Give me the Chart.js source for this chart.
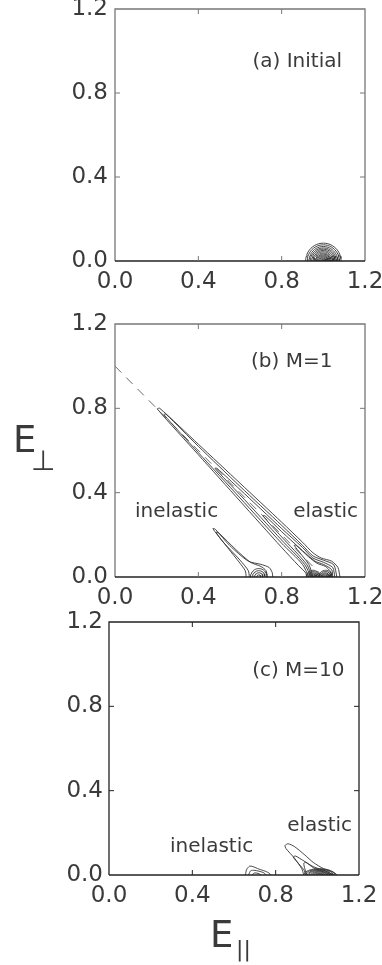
<!DOCTYPE html>
<html>
<head>
<meta charset="utf-8">
<script src="https://cdn.jsdelivr.net/npm/chart.js@4.4.1/dist/chart.umd.min.js"></script>
<style>
  body { margin: 0; background: #fff; width: 382px; height: 965px; overflow: hidden; position: relative; }
  canvas { position: absolute; left: 0; }
</style>
</head>
<body>
<canvas id="panelA" width="382" height="300" style="top:0px"></canvas>
<canvas id="panelB" width="382" height="305" style="top:300px"></canvas>
<canvas id="panelC" width="382" height="360" style="top:605px"></canvas>
<script>
/* tick labels shared by all three panels */
const tickValues = [0, 0.4, 0.8, 1.2];

/* (a) initial distribution: concentric rings around E|| = 1 */
const ringCenterA = 1.0;
const ringRadiiA = [0.085, 0.077, 0.069, 0.062, 0.056, 0.050, 0.044, 0.038, 0.033, 0.028, 0.023, 0.018, 0.013, 0.008, 0.004];

/* (b) M=1, elastic streak along E|| + E_perp = 1 */
const elasticB1 = [[0.92,0],[0.915,0.02],[0.88,0.055],[0.80,0.14],[0.60,0.36],[0.40,0.58],[0.203,0.797],[0.215,0.80],[0.40,0.63],[0.60,0.445],[0.80,0.26],[0.90,0.165],[0.95,0.115],[0.99,0.09],[1.04,0.075],[1.07,0.045],[1.08,0]];
const elasticB2 = [[0.93,0],[0.90,0.06],[0.80,0.16],[0.60,0.375],[0.40,0.59],[0.235,0.77],[0.245,0.772],[0.40,0.62],[0.60,0.43],[0.80,0.245],[0.90,0.15],[0.95,0.10],[1.00,0.08],[1.05,0.058],[1.065,0]];
const elasticB3 = [[0.94,0],[0.91,0.06],[0.80,0.175],[0.60,0.39],[0.48,0.515],[0.49,0.515],[0.60,0.415],[0.80,0.23],[0.90,0.14],[0.95,0.09],[1.00,0.07],[1.045,0.045],[1.055,0]];
const elasticB4 = [[0.945,0],[0.92,0.06],[0.80,0.19],[0.71,0.29],[0.72,0.29],[0.80,0.215],[0.90,0.125],[0.96,0.075],[1.00,0.06],[1.04,0.035],[1.045,0]];
const elasticB5 = [[0.95,0],[0.93,0.06],[0.86,0.15],[0.87,0.15],[0.93,0.095],[0.97,0.065],[1.01,0.05],[1.035,0.025],[1.04,0]];
const ringCentersB = [0.95, 1.01];
const ringRadiiB = [0.032, 0.026, 0.02, 0.015, 0.01, 0.005];
const dashedB = [[0, 1], [1, 0]];

/* (b) M=1, inelastic streak */
const inelasticB1 = [[0.63,0],[0.625,0.03],[0.60,0.065],[0.54,0.14],[0.48,0.215],[0.47,0.23],[0.482,0.226],[0.55,0.15],[0.64,0.075],[0.70,0.06],[0.74,0.045],[0.755,0.02],[0.757,0]];
const inelasticB2 = [[0.645,0],[0.64,0.03],[0.60,0.08],[0.52,0.165],[0.485,0.212],[0.50,0.207],[0.58,0.13],[0.65,0.07],[0.70,0.05],[0.725,0.03],[0.73,0]];
const ringCenterBi = 0.69;
const ringRadiiBi = [0.04, 0.03, 0.02, 0.01];

/* (c) M=10 */
const inelasticC1 = [[0.655,0],[0.66,0.025],[0.675,0.042],[0.69,0.04],[0.72,0.028],[0.75,0.018],[0.77,0.008],[0.775,0]];
const inelasticC2 = [[0.67,0],[0.68,0.02],[0.70,0.022],[0.74,0.012],[0.755,0]];
const inelasticC3 = [[0.685,0],[0.70,0.01],[0.72,0.006],[0.73,0]];
const elasticC1 = [[0.935,0],[0.925,0.03],[0.89,0.08],[0.85,0.125],[0.845,0.14],[0.86,0.148],[0.89,0.135],[0.94,0.095],[0.98,0.06],[1.03,0.03],[1.08,0.012],[1.095,0]];
const elasticC2 = [[0.945,0],[0.935,0.025],[0.90,0.065],[0.885,0.085],[0.895,0.09],[0.93,0.07],[0.98,0.04],[1.04,0.018],[1.08,0]];
const elasticC3 = [[0.95,0],[0.94,0.03],[0.935,0.055],[0.945,0.06],[0.98,0.035],[1.03,0.015],[1.07,0]];
const ringCenterC = 1.01;
const ringRxC = [0.075, 0.066, 0.057, 0.049, 0.041, 0.033, 0.025, 0.017, 0.009];
const ringRyC = [0.03, 0.027, 0.024, 0.021, 0.017, 0.014, 0.01, 0.007, 0.004];


const INK = '#333';
const FONT = '"DejaVu Sans", sans-serif';

// half ring (upper half) of a contour around (cx, 0)
function halfRing(cx, rx, ry) {
  const pts = [];
  for (let i = 0; i <= 24; i++) {
    const t = Math.PI - Math.PI * i / 24;
    pts.push({x: cx + rx * Math.cos(t), y: ry * Math.sin(t)});
  }
  return pts;
}

function line(points, extra) {
  return Object.assign({
    data: points.map(p => Array.isArray(p) ? {x: p[0], y: p[1]} : p),
    showLine: true,
    pointRadius: 0,
    borderColor: INK,
    borderWidth: 0.9,
    tension: 0.25,
    fill: false
  }, extra || {});
}

function rings(cx, rxs, rys) {
  return rxs.map((r, i) => line(halfRing(cx, r, rys ? rys[i] : r), {tension: 0}));
}

// frame with inward ticks on all four sides
const framePlugin = {
  id: 'frame',
  afterDatasetsDraw(chart, args, opts) {
    const {ctx, chartArea: a, scales: {x, y}} = chart;
    ctx.save();
    ctx.lineWidth = 1.3;
    ctx.strokeStyle = opts.sideColor;
    ctx.beginPath();
    ctx.moveTo(a.left, a.bottom); ctx.lineTo(a.left, a.top);
    ctx.lineTo(a.right, a.top); ctx.lineTo(a.right, a.bottom);
    ctx.stroke();
    ctx.strokeStyle = '#222';
    ctx.beginPath();
    ctx.moveTo(a.left, a.bottom); ctx.lineTo(a.right, a.bottom);
    ctx.stroke();
    ctx.lineWidth = 1;
    ctx.strokeStyle = opts.sideColor;
    ctx.beginPath();
    [0.4, 0.8].forEach(v => {
      const px = x.getPixelForValue(v), py = y.getPixelForValue(v);
      ctx.moveTo(px, a.bottom); ctx.lineTo(px, a.bottom - 5);
      ctx.moveTo(px, a.top); ctx.lineTo(px, a.top + 5);
      ctx.moveTo(a.left, py); ctx.lineTo(a.left + 5, py);
      ctx.moveTo(a.right, py); ctx.lineTo(a.right - 5, py);
    });
    ctx.stroke();

    // labels inside the plot
    ctx.fillStyle = '#3a3a3a';
    ctx.font = '20px ' + FONT;
    ctx.textBaseline = 'middle';
    ctx.textAlign = 'left';
    (opts.notes || []).forEach(n => {
      ctx.fillText(n.text, x.getPixelForValue(n.x), y.getPixelForValue(n.y));
    });

    // axis titles
    ctx.textBaseline = 'alphabetic';
    if (opts.yTitle) {
      ctx.font = '37px ' + FONT;
      ctx.fillText('E', a.left - 102, a.top + 128);
      ctx.font = '28px ' + FONT;
      ctx.fillText('\u22A5', a.left - 84, a.top + 146);
    }
    if (opts.xTitle) {
      ctx.font = '37px ' + FONT;
      ctx.fillText('E', a.left + 101, a.bottom + 72);
      ctx.font = '22px ' + FONT;
      ctx.fillText('||', a.left + 127, a.bottom + 81);
    }
    ctx.restore();
  }
};

function createPanel(canvasId, datasets, box, frame) {
  const ctx = document.getElementById(canvasId).getContext('2d');
  const tickFont = {family: FONT, size: 23};
  new Chart(ctx, {
    type: 'scatter',
    data: {datasets: datasets},
    options: {
      responsive: false,
      animation: false,
      devicePixelRatio: 1,
      layout: {padding: {left: 0, top: box.top, right: box.right, bottom: 0}},
      plugins: {legend: {display: false}, tooltip: {enabled: false}, frame: frame},
      scales: {
        x: {
          type: 'linear', min: 0, max: 1.2,
          afterBuildTicks: s => { s.ticks = tickValues.map(v => ({value: v})); },
          afterFit: s => { s.height = box.xHeight; s.paddingLeft = 0; s.paddingRight = 0; },
          grid: {display: false, drawTicks: false},
          border: {display: false},
          ticks: {padding: 7, font: tickFont, color: '#3a3a3a', maxRotation: 0, autoSkip: false,
                  callback: v => v.toFixed(1)}
        },
        y: {
          type: 'linear', min: 0, max: 1.2,
          afterBuildTicks: s => { s.ticks = tickValues.map(v => ({value: v})); },
          afterFit: s => { s.width = box.yWidth; s.paddingTop = 0; s.paddingBottom = 0; },
          grid: {display: false, drawTicks: false},
          border: {display: false},
          ticks: {padding: box.yPad, font: tickFont, color: '#3a3a3a', autoSkip: false,
                  callback: v => v.toFixed(1)}
        }
      }
    },
    plugins: [framePlugin]
  });
}

createPanel('panelA',
  rings(ringCenterA, ringRadiiA),
  {top: 9, right: 17, yWidth: 115, xHeight: 39, yPad: 7},
  {sideColor: '#777', notes: [{text: '(a) Initial', x: 0.66, y: 0.948}]});

createPanel('panelB',
  [line(dashedB, {borderDash: [9, 7], borderWidth: 0.8, tension: 0, borderColor: '#444'}),
   line(elasticB1), line(elasticB2), line(elasticB3), line(elasticB4), line(elasticB5)]
    .concat(rings(ringCentersB[0], ringRadiiB), rings(ringCentersB[1], ringRadiiB),
            [line(inelasticB1), line(inelasticB2)], rings(ringCenterBi, ringRadiiBi)),
  {top: 24, right: 17, yWidth: 115, xHeight: 28, yPad: 7},
  {sideColor: '#777', yTitle: true, notes: [
    {text: '(b) M=1', x: 0.653, y: 1.02},
    {text: 'inelastic', x: 0.096, y: 0.308},
    {text: 'elastic', x: 0.855, y: 0.308}]});

createPanel('panelC',
  [line(inelasticC1), line(inelasticC2), line(inelasticC3),
   line(elasticC1), line(elasticC2), line(elasticC3)]
    .concat(rings(ringCenterC, ringRxC, ringRyC)),
  {top: 17, right: 23, yWidth: 109, xHeight: 90, yPad: 6},
  {sideColor: '#222', xTitle: true, notes: [
    {text: '(c) M=10', x: 0.687, y: 0.97},
    {text: 'inelastic', x: 0.293, y: 0.133},
    {text: 'elastic', x: 0.855, y: 0.232}]});
</script>
</body>
</html>
